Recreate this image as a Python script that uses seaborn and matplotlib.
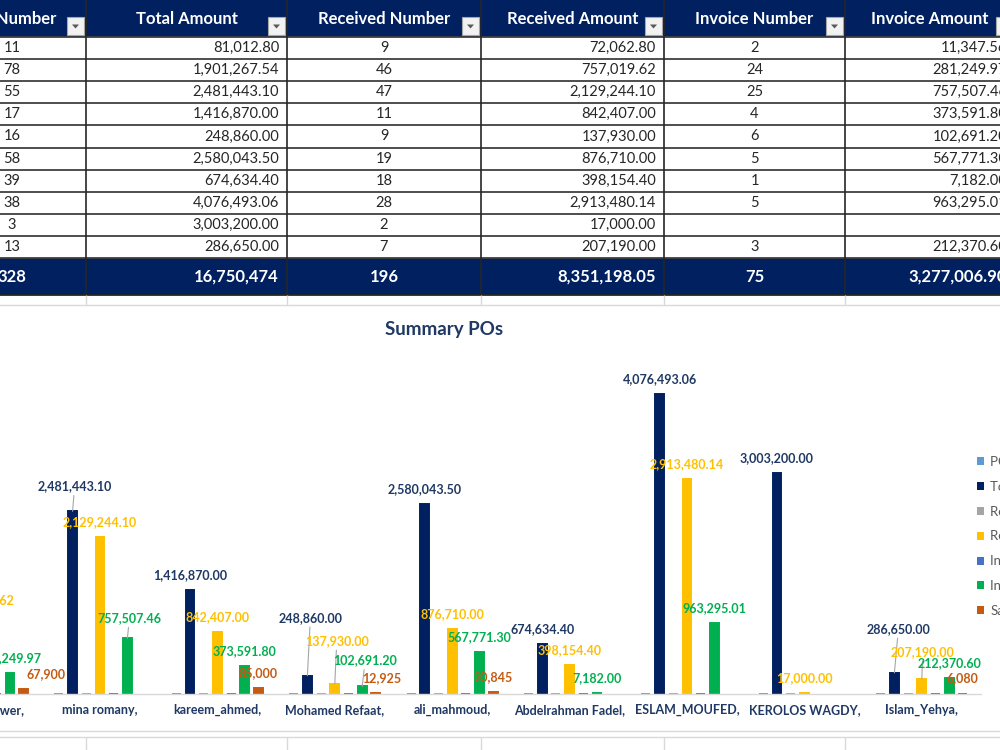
import numpy as np
import pandas as pd
import matplotlib
matplotlib.use('Agg')
import matplotlib.pyplot as plt
from matplotlib.patches import Rectangle, Polygon, Patch
import seaborn as sns

# ---- data (one row per buyer) ----
names = ['Ahmed Samy,', 'Ahmed Anwer,', 'mina romany,', 'kareem_ahmed,', 'Mohamed Refaat,',
         'ali_mahmoud,', 'Abdelrahman Fadel,', 'ESLAM_MOUFED,', 'KEROLOS WAGDY,', 'Islam_Yehya,']
po_number = [11, 78, 55, 17, 16, 58, 39, 38, 3, 13]
total_amount = [81012.80, 1901267.54, 2481443.10, 1416870.00, 248860.00,
                2580043.50, 674634.40, 4076493.06, 3003200.00, 286650.00]
received_number = [9, 46, 47, 11, 9, 19, 18, 28, 2, 7]
received_amount = [72062.80, 757019.62, 2129244.10, 842407.00, 137930.00,
                   876710.00, 398154.40, 2913480.14, 17000.00, 207190.00]
invoice_number = [2, 24, 25, 4, 6, 5, 1, 5, None, 3]
invoice_amount = [11347.56, 281249.97, 757507.46, 373591.80, 102691.20,
                  567771.30, 7182.00, 963295.01, None, 212370.60]
saving = [None, 67900, None, 85000, 12925, 20845, None, None, None, 6080]
totals = [328, 16750474, 196, 8351198.05, 75, 3277006.90]

series_names = ['PO Number', 'Total Amount', 'Received Number', 'Received Amount',
                'Invoice Number', 'Invoice Amount', 'Saving']
colors = ['#5B9BD5', '#002060', '#A5A5A5', '#FFC000', '#4472C4', '#00B050', '#C55A11']

sns.set_theme(style='white')
plt.rcParams['font.family'] = ['Lato', 'DejaVu Sans']

fig = plt.figure(figsize=(10, 7.5), dpi=100)

# ---- the excel table on top, drawn in pixel coordinates ----
tab = fig.add_axes([0, 0, 1, 1])
tab.set_xlim(0, 1000)
tab.set_ylim(750, 0)
tab.axis('off')

navy = '#002060'
edges = [-62, 86, 287, 481, 664, 845, 1015]
row_top = 37
row_h = 22.1
n = len(names)
total_top = row_top + n * row_h
total_bot = 295

tab.add_patch(Rectangle((-10, -10), 1030, row_top + 10, color=navy, lw=0))
tab.add_patch(Rectangle((-10, total_top), 1030, total_bot - total_top, color=navy, lw=0))
tab.hlines([row_top + k * row_h for k in range(n + 1)], -10, 1010, color='#404040', lw=1.3)
tab.hlines([total_bot], -10, 1010, color='#262626', lw=1.3)
tab.vlines(edges[1:-1], -10, total_bot, color='#262626', lw=1.2)
# empty sheet cells around the chart
tab.vlines(edges[1:-1], total_bot, 305, color='#D9D9D9', lw=1)
tab.hlines([305, 731, 737], -10, 1010, color='#D9D9D9', lw=1)
tab.vlines(edges[1:-1], 737, 760, color='#D9D9D9', lw=1)

table_cols = [po_number, total_amount, received_number, received_amount, invoice_number, invoice_amount]
total_fmt = ['{:,.0f}', '{:,.0f}', '{:,.0f}', '{:,.2f}', '{:,.0f}', '{:,.2f}']
for j, (head, col) in enumerate(zip(series_names[:6], table_cols)):
    left, right = edges[j], edges[j + 1]
    mid = (left + right) / 2
    is_amount = j % 2 == 1
    tab.text(mid, 18.5, head, ha='center', va='center', color='white', fontsize=12, fontweight='bold')
    # filter drop-down button
    tab.add_patch(Rectangle((right - 19, 17), 17, 18, facecolor='#F2F2F2', edgecolor='#A6A6A6', lw=0.8))
    bx = right - 10.5
    tab.add_patch(Polygon([(bx - 3.5, 24.5), (bx + 3.5, 24.5), (bx, 28.5)], closed=True, color='#595959', lw=0))
    for i, v in enumerate(col):
        if v is None:
            continue
        y = row_top + (i + 0.5) * row_h
        if is_amount:
            tab.text(right - 8, y, f'{v:,.2f}', ha='right', va='center', fontsize=10.5, color='#262626')
        else:
            tab.text(mid, y, f'{v:d}', ha='center', va='center', fontsize=10.5, color='#262626')
    ty = (total_top + total_bot) / 2
    txt = total_fmt[j].format(totals[j])
    if is_amount:
        tab.text(right - 8, ty, txt, ha='right', va='center', fontsize=12, fontweight='bold', color='white')
    else:
        tab.text(mid, ty, txt, ha='center', va='center', fontsize=12, fontweight='bold', color='white')

fig.text(0.444, 1 - 330 / 750, 'Summary POs', ha='center', va='center',
         fontsize=13.5, fontweight='bold', color='#1F3864')

# ---- clustered bar chart ----
ax = fig.add_axes([-0.1935, 56 / 750, 1.174, 324 / 750])
wide = pd.DataFrame({'Name': names, 'PO Number': po_number, 'Total Amount': total_amount,
                     'Received Number': received_number, 'Received Amount': received_amount,
                     'Invoice Number': invoice_number, 'Invoice Amount': invoice_amount,
                     'Saving': saving})
long = wide.melt(id_vars='Name', var_name='Series', value_name='Value').dropna()

group_w = 0.817
sns.barplot(data=long, x='Name', y='Value', hue='Series', order=names, hue_order=series_names,
            palette=colors, saturation=1, width=group_w, gap=0.35, errorbar=None,
            legend=False, ax=ax)
ax.set_xlim(-0.5, n - 0.5)
ax.set_ylim(0, 4.4e6)
ax.patch.set_alpha(0)
sns.despine(ax=ax, left=True)
ax.spines['bottom'].set_color('#D9D9D9')
ax.spines['bottom'].set_linewidth(1)
ax.set_yticks([])
ax.set_xlabel('')
ax.set_ylabel('')
ax.tick_params(axis='x', length=0, pad=7, labelsize=9, labelcolor='#1F3864')
for lbl in ax.get_xticklabels():
    lbl.set_fontweight('bold')

label_style = {'Total Amount': ('#1F3864', '{:,.2f}'),
               'Received Amount': ('#FFC000', '{:,.2f}'),
               'Invoice Amount': ('#00B050', '{:,.2f}'),
               'Saving': ('#C55A11', '{:,.0f}')}
# manual label moves (dx px, extra lift px), like the dragged labels in excel
nudges = {('Ahmed Anwer,', 'Received Amount'): (0, 23),
          ('Ahmed Anwer,', 'Saving'): (22, 0),
          ('mina romany,', 'Total Amount'): (2, 10),
          ('mina romany,', 'Invoice Amount'): (2, 5),
          ('Mohamed Refaat,', 'Total Amount'): (3, 43),
          ('Mohamed Refaat,', 'Received Amount'): (2, 28),
          ('Mohamed Refaat,', 'Invoice Amount'): (3, 11),
          ('Mohamed Refaat,', 'Saving'): (6, 0),
          ('Islam_Yehya,', 'Total Amount'): (4, 29),
          ('Islam_Yehya,', 'Received Amount'): (1, 12)}

slot = group_w / len(series_names)
for bar in ax.patches:
    bar.set_edgecolor(bar.get_facecolor())
    bar.set_linewidth(1.4)
    cx = bar.get_x() + bar.get_width() / 2
    h = bar.get_height()
    ci = int(round(cx))
    s = series_names[int(round((cx - ci) / slot + 3))]
    if s not in label_style or np.isnan(h):
        continue
    color, fmt = label_style[s]
    dx, lift = nudges.get((names[ci], s), (0, 0))
    arrow = dict(arrowstyle='-', color='#A6A6A6', lw=0.8, shrinkA=0, shrinkB=0) if lift > 4 else None
    ax.annotate(fmt.format(h), xy=(cx, h), xytext=(dx, 15 + lift), textcoords='offset pixels',
                ha='center', va='center', fontsize=9, fontweight='bold', color=color,
                arrowprops=arrow, annotation_clip=False)

handles = [Patch(facecolor=c, edgecolor='none') for c in colors]
fig.legend(handles, series_names, loc='upper left', bbox_to_anchor=(0.977, 1 - 456 / 750),
           frameon=False, fontsize=9.5, labelcolor='#595959', handlelength=0.55, handleheight=0.55,
           handletextpad=0.45, labelspacing=0.97, borderaxespad=0, borderpad=0)

fig.savefig('out.png', dpi=100)
